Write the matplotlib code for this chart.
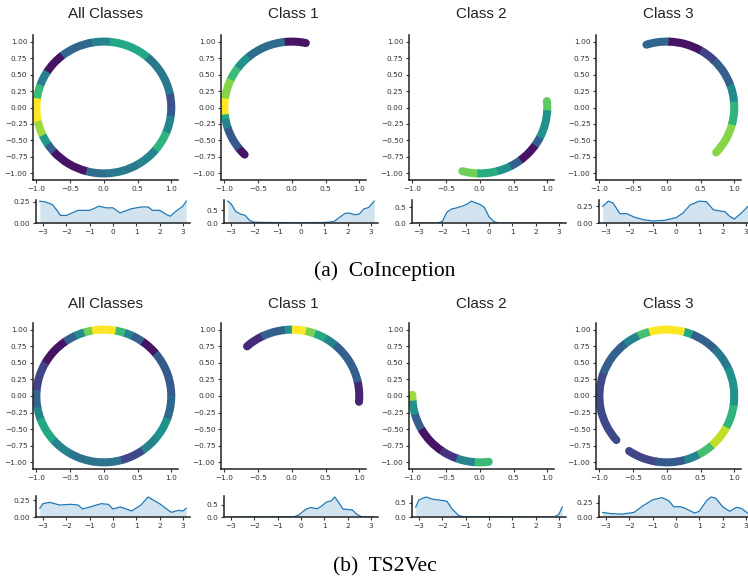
import matplotlib
matplotlib.use("Agg")
import matplotlib.pyplot as plt
from matplotlib.patches import Arc
from matplotlib.ticker import FuncFormatter

W, H = 748, 581

titles = ["All Classes", "Class 1", "Class 2", "Class 3"]
captions = ["(a)  CoInception", "(b)  TS2Vec"]

# ring colour stops (angle in degrees, counter-clockwise) and viridis values per segment
co_stops = [
    [0, 12, 50, 85, 100, 128, 147, 160, 172, 192, 205, 214, 222, 255, 272, 300, 320, 338, 352, 360],
    [78, 96, 130, 143, 155, 172, 186, 190, 198, 218, 225],
    [255, 268, 285, 297, 307, 325, 333, 357, 365],
    [-43, -15, 5, 20, 45, 60, 88, 107],
]
co_vals = [
    [0.25, 0.4, 0.6, 0.45, 0.33, 0.05, 0.42, 0.68, 1.0, 0.85, 0.55, 0.3, 0.05, 0.35, 0.4, 0.45, 0.65, 0.45, 0.28],
    [0.05, 0.35, 0.5, 0.68, 0.82, 1.0, 0.6, 0.45, 0.27, 0.05],
    [0.78, 0.62, 0.5, 0.3, 0.05, 0.3, 0.5, 0.75],
    [0.82, 0.65, 0.48, 0.3, 0.2, 0.05, 0.33],
]
ts_stops = [
    [0, 40, 55, 65, 72, 80, 100, 107, 115, 125, 150, 175, 190, 200, 222, 240, 285, 305, 320, 340, 360],
    [-5, 12, 50, 60, 70, 78, 90, 96, 116, 131],
    [179, 184, 196, 210, 235, 250, 265, 277],
    [-124, -100, -75, -62, -48, -28, -8, 25, 45, 68, 75, 105, 115, 128, 160, 221],
]
ts_vals = [
    [0.28, 0.05, 0.3, 0.45, 0.68, 1.0, 0.78, 0.48, 0.3, 0.05, 0.2, 0.33, 0.45, 0.6, 0.45, 0.38, 0.22, 0.45, 0.5, 0.33],
    [0.1, 0.3, 0.45, 0.6, 0.8, 1.0, 0.5, 0.3, 0.12],
    [0.85, 0.5, 0.3, 0.05, 0.15, 0.45, 0.68],
    [0.2, 0.28, 0.45, 0.7, 0.9, 0.65, 0.5, 0.4, 0.3, 0.6, 1.0, 0.7, 0.45, 0.3, 0.22],
]
full_ring = [True, False, False, False]

# angle densities
co_kx = [
    [-3.14, -2.9, -2.6, -2.4, -2.25, -2.0, -1.75, -1.5, -1.0, -0.75, -0.6, -0.3, 0.0, 0.3, 0.5, 0.8, 1.2, 1.5, 1.7, 2.0, 2.3, 2.45, 2.7, 3.0, 3.14],
    [-3.14, -3.0, -2.8, -2.6, -2.4, -2.2, -2.0, -1.5, 0.0, 1.0, 1.4, 1.7, 1.9, 2.1, 2.3, 2.5, 2.7, 2.9, 3.14],
    [-3.14, -2.2, -2.0, -1.8, -1.6, -1.4, -1.1, -0.9, -0.75, -0.6, -0.4, -0.2, 0.0, 0.2, 0.4, 3.14],
    [-3.14, -2.9, -2.7, -2.4, -2.1, -1.8, -1.4, -1.0, -0.5, 0.0, 0.3, 0.6, 1.0, 1.3, 1.6, 1.9, 2.1, 2.3, 2.5, 2.8, 3.14],
]
co_ky = [
    [0.26, 0.25, 0.22, 0.15, 0.09, 0.09, 0.12, 0.15, 0.15, 0.18, 0.2, 0.18, 0.18, 0.12, 0.14, 0.17, 0.19, 0.19, 0.15, 0.15, 0.1, 0.08, 0.14, 0.2, 0.26],
    [0.85, 0.75, 0.45, 0.35, 0.3, 0.1, 0.03, 0.02, 0.01, 0.02, 0.05, 0.25, 0.38, 0.38, 0.32, 0.35, 0.55, 0.6, 0.85],
    [0.0, 0.0, 0.05, 0.35, 0.45, 0.48, 0.55, 0.62, 0.7, 0.65, 0.6, 0.5, 0.2, 0.05, 0.0, 0.0],
    [0.25, 0.33, 0.3, 0.14, 0.14, 0.09, 0.05, 0.03, 0.04, 0.08, 0.15, 0.27, 0.33, 0.32, 0.2, 0.18, 0.17, 0.1, 0.06, 0.15, 0.27],
]
ts_kx = [
    [-3.14, -3.0, -2.7, -2.3, -1.8, -1.5, -1.3, -1.0, -0.5, -0.2, 0.0, 0.3, 0.5, 0.8, 1.2, 1.5, 1.7, 2.0, 2.3, 2.5, 2.8, 3.0, 3.14],
    [-3.14, -0.3, -0.1, 0.2, 0.4, 0.7, 0.9, 1.1, 1.3, 1.45, 1.6, 1.8, 2.0, 2.2, 2.4, 2.6, 3.14],
    [-3.14, -3.0, -2.7, -2.4, -2.0, -1.8, -1.6, -1.3, -1.1, 2.8, 3.0, 3.14],
    [-3.14, -2.8, -2.3, -1.8, -1.4, -1.0, -0.6, -0.3, -0.1, 0.2, 0.4, 0.8, 1.0, 1.3, 1.5, 1.7, 2.0, 2.3, 2.6, 2.8, 3.14],
]
ts_ky = [
    [0.13, 0.2, 0.22, 0.18, 0.19, 0.18, 0.12, 0.15, 0.2, 0.19, 0.12, 0.15, 0.13, 0.09, 0.18, 0.3, 0.26, 0.2, 0.12, 0.07, 0.1, 0.09, 0.13],
    [0.0, 0.01, 0.08, 0.3, 0.38, 0.33, 0.45, 0.6, 0.65, 0.8, 0.6, 0.32, 0.3, 0.28, 0.1, 0.01, 0.0],
    [0.35, 0.6, 0.7, 0.62, 0.58, 0.55, 0.3, 0.05, 0.01, 0.0, 0.1, 0.35],
    [0.08, 0.06, 0.05, 0.08, 0.2, 0.3, 0.34, 0.28, 0.18, 0.18, 0.15, 0.07, 0.1, 0.28, 0.35, 0.33, 0.18, 0.1, 0.17, 0.15, 0.05],
]
kde_yticks = [[0, 0.25], [0, 0.5], [0, 0.5], [0, 0.25]]

rows = [
    dict(stops=co_stops, vals=co_vals, kx=co_kx, ky=co_ky, cap=captions[0],
         sc_top=35, sc_h=145, kd_top=200, kd_h=23, title_y=14, cap_y=271),
    dict(stops=ts_stops, vals=ts_vals, kx=ts_kx, ky=ts_ky, cap=captions[1],
         sc_top=323, sc_h=146, kd_top=496, kd_h=21, title_y=304, cap_y=567),
]
sc_left = [33, 221, 409, 596]


def rect(left, top, w, h):
    return [left / W, 1 - (top + h) / H, w / W, h / H]


def fmt(spec):
    return FuncFormatter(lambda v, p: (spec % v).replace("-", "\u2212"))


def style(ax):
    for s in ["top", "right"]:
        ax.spines[s].set_visible(False)
    for s in ["left", "bottom"]:
        ax.spines[s].set_linewidth(1.1)
        ax.spines[s].set_color("#222222")
    ax.tick_params(labelsize=5.3, length=2.5, width=0.8, pad=1.5, colors="#333333")


fig = plt.figure(figsize=(W / 100, H / 100), dpi=100)
cmap = plt.get_cmap("viridis")

for r in rows:
    for i in range(4):
        ax = fig.add_axes(rect(sc_left[i], r["sc_top"], 145, r["sc_h"]))
        style(ax)
        stops, vals = r["stops"][i], r["vals"][i]
        n = len(vals)
        # last segment first so both ends keep round caps
        order = [n - 1] + list(range(n - 1))
        for k in order:
            cap = "butt" if full_ring[i] else ("round" if k in (0, n - 1) else "butt")
            ax.add_patch(Arc((0, 0), 2, 2, theta1=stops[k], theta2=stops[k + 1] + 0.6,
                             color=cmap(vals[k]), lw=5.8, capstyle=cap))
        ax.set_xlim(-1.05, 1.1)
        ax.set_ylim(-1.1, 1.1)
        ax.set_xticks([-1.0, -0.5, 0.0, 0.5, 1.0])
        ax.set_yticks([-1.0, -0.75, -0.5, -0.25, 0.0, 0.25, 0.5, 0.75, 1.0])
        ax.yaxis.set_major_formatter(fmt("%.2f"))
        ax.xaxis.set_major_formatter(fmt("%.1f"))
        cx = sc_left[i] + 72
        fig.text(cx / W, 1 - r["title_y"] / H, titles[i], ha="center", va="center",
                 fontsize=11, family="Liberation Sans", color="#222222")

        kx = fig.add_axes(rect(sc_left[i] + 3, r["kd_top"], 154, r["kd_h"]))
        style(kx)
        xs, ys = r["kx"][i], r["ky"][i]
        kx.plot(xs, ys, color="#1f77b4", lw=0.9)
        kx.fill_between(xs, ys, color="#1f77b4", alpha=0.2, lw=0)
        kx.set_xlim(-3.3, 3.3)
        kx.set_ylim(0, max(ys) * 1.05)
        kx.set_xticks([-3, -2, -1, 0, 1, 2, 3])
        kx.set_yticks(kde_yticks[i])
        kx.xaxis.set_major_formatter(fmt("%d"))
        kx.yaxis.set_major_formatter(fmt("%.2f" if kde_yticks[i][1] == 0.25 else "%.1f"))

    fig.text(385 / W, 1 - r["cap_y"] / H, r["cap"], ha="center", va="center",
             fontsize=15.5, family="Liberation Serif", color="black")

fig.savefig("out.png", dpi=100)
